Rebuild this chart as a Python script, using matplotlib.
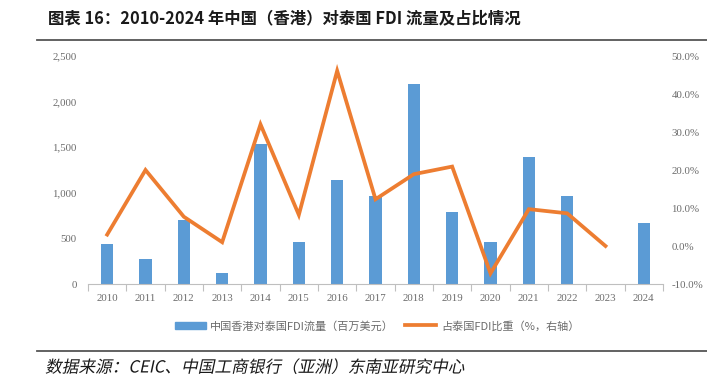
import matplotlib
matplotlib.use("Agg")
import matplotlib.pyplot as plt
import numpy as np
from matplotlib.lines import Line2D
from matplotlib.ticker import FuncFormatter, FixedLocator
from matplotlib.patheffects import AbstractPathEffect
from matplotlib.transforms import Affine2D

plt.rcParams['font.family'] = ['Noto Sans CJK SC', 'DejaVu Sans']

years = ['2010', '2011', '2012', '2013', '2014', '2015', '2016', '2017',
         '2018', '2019', '2020', '2021', '2022', '2023', '2024']
fdi_flow = [440, 270, 700, 125, 1530, 460, 1140, 970, 2190, 790, 460, 1395, 965, np.nan, 670]
fdi_share = [3.0, 20.0, 7.7, 1.0, 32.0, 8.2, 46.1, 12.3, 18.9, 20.9, -7.2, 9.7, 8.6, 0.0, np.nan]

bar_label = '中国香港对泰国FDI流量（百万美元）'
line_label = '占泰国FDI比重（%，右轴）'
title = '图表 16：2010-2024 年中国（香港）对泰国 FDI 流量及占比情况'
source = '数据来源：CEIC、中国工商银行（亚洲）东南亚研究中心'

blue = '#5B9BD5'
orange = '#ED7D31'
gray = '#6b6b6b'
serif = ['Liberation Serif', 'DejaVu Serif']


class Slant(AbstractPathEffect):
    def __init__(self, y0, deg=12):
        super().__init__()
        self.y0 = y0
        self.deg = deg

    def draw_path(self, renderer, gc, tpath, affine, rgbFace=None):
        sk = Affine2D().translate(0, -self.y0).skew_deg(self.deg, 0).translate(0, self.y0)
        renderer.draw_path(gc, tpath, affine + sk, rgbFace)


fig = plt.figure(figsize=(7.07, 3.8), dpi=100)
ax = fig.add_axes([88/707, 1-284/380, (663-88)/707, (284-56)/380])
ax2 = ax.twinx()

x = np.arange(len(years))
ax.bar(x, fdi_flow, width=0.32, color=blue, zorder=2)
ax2.plot(x, fdi_share, color=orange, lw=2.7, solid_joinstyle='miter', zorder=3)

ax.set_xlim(-0.5, len(years) - 0.5)
ax.set_ylim(0, 2500)
ax.set_yticks(np.arange(0, 2501, 500))
ax.yaxis.set_major_formatter(FuncFormatter(lambda v, p: f'{int(v):,}'))
ax2.set_ylim(-10, 50)
ax2.set_yticks(np.arange(-10, 51, 10))
ax2.yaxis.set_major_formatter(FuncFormatter(lambda v, p: f'{v:.1f}%'))

ax.set_xticks(x)
ax.set_xticklabels(years)
ax.xaxis.set_minor_locator(FixedLocator(np.arange(-0.5, len(years), 1.0)))
ax.tick_params(axis='x', which='major', length=0, pad=7)
ax.tick_params(axis='x', which='minor', length=5, color='#BFBFBF', width=0.8)
ax.tick_params(axis='y', length=0, pad=8)
ax2.tick_params(axis='y', length=0, pad=6)

for a in (ax, ax2):
    for s in ['top', 'left', 'right', 'bottom']:
        a.spines[s].set_visible(False)
ax.spines['bottom'].set_visible(True)
ax.spines['bottom'].set_color('#BFBFBF')
ax.spines['bottom'].set_linewidth(0.8)

for lbl in ax.get_xticklabels() + ax.get_yticklabels() + ax2.get_yticklabels():
    lbl.set_family(serif)
    lbl.set_fontsize(7.8)
    lbl.set_color(gray)

ax.set_zorder(1)
ax2.set_zorder(2)
ax.patch.set_visible(False)

handles = [plt.Rectangle((0, 0), 1, 1, color=blue),
           Line2D([0], [0], color=orange, lw=2.7)]
fig.legend(handles, [bar_label, line_label], loc='center', ncol=2,
           bbox_to_anchor=(377/707, 1-326/380), frameon=False,
           fontsize=8, handlelength=2.8, handleheight=0.7, columnspacing=1.0,
           handletextpad=0.4, labelcolor=gray)

fig.text(48/707, 1-18/380, title, fontsize=11.8, fontweight='bold', va='center', ha='left', color='#1a1a1a')
fig.add_artist(Line2D([37/707, 1], [1-40/380, 1-40/380], color='#555555', lw=1.3))
fig.add_artist(Line2D([37/707, 1], [1-351/380, 1-351/380], color='#555555', lw=1.3))
fig.text(46/707, 1-368/380, source, fontsize=12, va='center', ha='left', color='#1a1a1a',
         path_effects=[Slant(12, 12)])

fig.savefig('out.png', dpi=100)
